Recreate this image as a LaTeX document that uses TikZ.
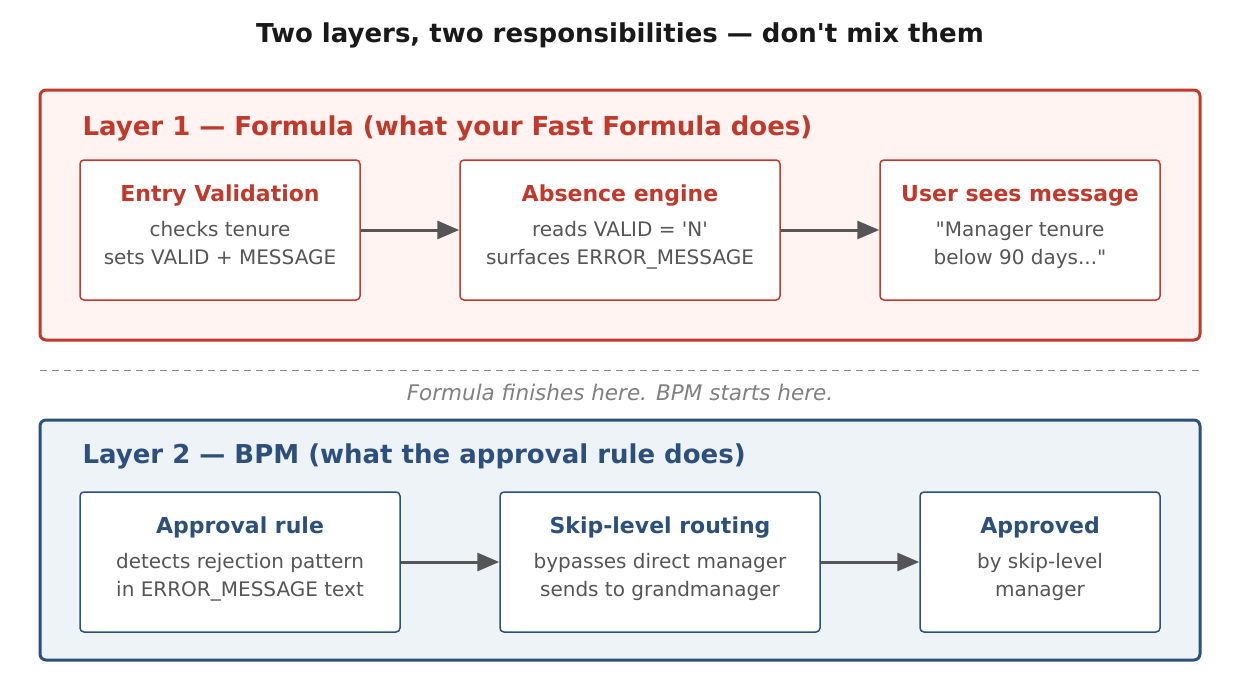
\documentclass[tikz,border=0pt]{standalone}
\usepackage{fontspec}
\setmainfont{DejaVu Sans}[Ligatures=TeXOff]
\usetikzlibrary{arrows.meta,positioning}
\definecolor{redC}{HTML}{C0392B}
\definecolor{redF}{HTML}{FFF4F2}
\definecolor{blueC}{HTML}{2C4F7C}
\definecolor{blueF}{HTML}{EEF3F8}
\definecolor{txt}{HTML}{555555}
\tikzset{
  >=Stealth,
  layer/.style={draw=#1, line width=3pt, rounded corners=6pt},
  step/.style={draw=#1, fill=white, line width=1.5pt, rounded corners=4pt,
               minimum height=140pt, align=center, text=txt,
               font=\fontsize{20}{28}\selectfont, inner sep=0pt},
  flow/.style={-{Triangle[length=22pt,width=18pt]}, draw=txt, line width=3pt},
}
\newcommand{\hd}[2]{{\fontsize{22}{24}\bfseries\color{#1}#2}\\[7pt]}
\newcommand{\tl}{\\[-17pt]\mbox{}}
\begin{document}
\begin{tikzpicture}[x=1pt,y=-1pt]
\useasboundingbox[fill=white] (0,0) rectangle (1240,680);

% title
\node[font=\fontsize{26}{30}\bfseries\selectfont, text=black!90] (title) at (620,35)
  {Two layers, two responsibilities — don't mix them};

% layer 1
\node[layer=redC, fill=redF, minimum width=1160pt, minimum height=250pt] (lay1) at (620,215) {};
\node[anchor=west, font=\fontsize{26}{30}\bfseries\selectfont, text=redC] (lay1t) at (79,128)
  {Layer 1 — Formula (what your Fast Formula does)};
\node[step=redC, minimum width=280pt] (entry) at (220,230)
  {\hd{redC}{Entry Validation}checks tenure\\sets VALID + MESSAGE\tl};
\node[step=redC, minimum width=320pt] (engine) at (620,230)
  {\hd{redC}{Absence engine}reads VALID = 'N'\\surfaces ERROR\_MESSAGE\tl};
\node[step=redC, minimum width=280pt] (user) at (1020,230)
  {\hd{redC}{User sees message}"Manager tenure\\below 90 days..."\tl};
\draw[flow] (entry) -- (engine);
\draw[flow] (engine) -- (user);

% separator
\coordinate (sepL) at (40,370);
\coordinate (sepR) at (1200,370);
\draw[txt!70, line width=1pt, dash pattern=on 7pt off 5pt] (sepL) -- (sepR);
\node[font=\fontsize{21.5}{24}\itshape\selectfont, text=black!50] (sep) at (620,392)
  {Formula finishes here. BPM starts here.};

% layer 2
\node[layer=blueC, fill=blueF, minimum width=1160pt, minimum height=240pt] (lay2) at (620,540) {};
\node[anchor=west, font=\fontsize{26}{30}\bfseries\selectfont, text=blueC] (lay2t) at (79,456)
  {Layer 2 — BPM (what the approval rule does)};
\node[step=blueC, minimum width=320pt] (rule) at (240,562)
  {\hd{blueC}{Approval rule}detects rejection pattern\\in ERROR\_MESSAGE text\tl};
\node[step=blueC, minimum width=320pt] (skip) at (660,562)
  {\hd{blueC}{Skip-level routing}bypasses direct manager\\sends to grandmanager\tl};
\node[step=blueC, minimum width=240pt] (appr) at (1040,562)
  {\hd{blueC}{Approved}by skip-level\\manager\tl};
\draw[flow] (rule) -- (skip);
\draw[flow] (skip) -- (appr);
\end{tikzpicture}
\end{document}
